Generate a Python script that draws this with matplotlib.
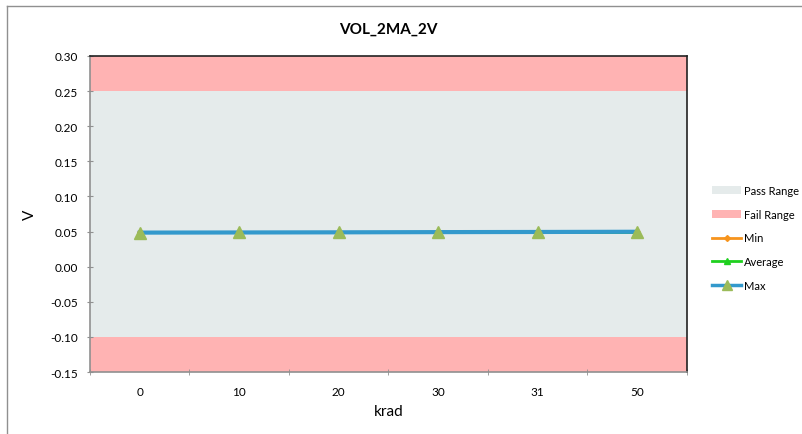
import matplotlib
matplotlib.use("Agg")
import matplotlib.pyplot as plt
from matplotlib.patches import Patch
from matplotlib.lines import Line2D
import numpy as np

plt.rcParams['font.family'] = ['Lato', 'DejaVu Sans']

categories = ['0', '10', '20', '30', '31', '50']
min_vals = [0.0497, 0.0497, 0.0497, 0.0497, 0.0497, 0.0497]
avg_vals = [0.0495, 0.0495, 0.0495, 0.0495, 0.0495, 0.0495]
max_vals = [0.0485, 0.0487, 0.0489, 0.0492, 0.0494, 0.0497]
pass_range = (-0.10, 0.25)
fail_low = (-0.15, -0.10)
fail_high = (0.25, 0.30)
y_ticks = [0.30, 0.25, 0.20, 0.15, 0.10, 0.05, 0.00, -0.05, -0.10, -0.15]

fig = plt.figure(figsize=(8.03, 4.35), dpi=100)
# outer frame lines (left & top)
fig.add_artist(Line2D([7/803, 7/803], [0, 1 - 7/435], color='#909090', lw=1))
fig.add_artist(Line2D([7/803, 1], [1 - 7/435, 1 - 7/435], color='#909090', lw=1))

ax = fig.add_axes([90/803, 1 - 373/435, (687 - 90)/803, (373 - 57)/435])
x = np.arange(len(categories))
ax.set_xlim(-0.5, len(categories) - 0.5)
ax.set_ylim(-0.15, 0.30)

pass_c = '#E5EBEB'
fail_c = '#FFB3B3'
ax.axhspan(*pass_range, color=pass_c, lw=0, zorder=0)
ax.axhspan(*fail_low, color=fail_c, lw=0, zorder=0)
ax.axhspan(*fail_high, color=fail_c, lw=0, zorder=0)

ax.plot(x, min_vals, color='#F7941D', lw=2, marker='D', ms=3, zorder=3)
ax.plot(x, avg_vals, color='#1FD01F', lw=2, marker='^', ms=5, zorder=4)
ax.plot(x, max_vals, color='#3399CC', lw=3, marker='^', ms=9,
        markerfacecolor='#9BBB59', markeredgecolor='#9BBB59', zorder=5)

ax.set_yticks(y_ticks)
ax.set_yticklabels([f'{v:.2f}' for v in y_ticks], fontsize=8.5)
ax.set_xticks(x)
ax.set_xticklabels(categories, fontsize=8.5)
ax.set_xticks(np.arange(-0.5, len(categories)), minor=True)
ax.tick_params(axis='x', which='major', length=0, pad=10)
ax.tick_params(axis='x', which='minor', length=5, direction='inout', color='#909090')
ax.tick_params(axis='y', length=5, direction='inout', color='#909090', pad=6)

for s in ['left', 'bottom']:
    ax.spines[s].set_color('#909090')
    ax.spines[s].set_linewidth(1.2)
for s in ['top', 'right']:
    ax.spines[s].set_color('#222222')
    ax.spines[s].set_linewidth(1.2)

ax.set_xlabel('krad', fontsize=11, labelpad=5)
ax.set_ylabel('V', fontsize=11, labelpad=10)
ax.set_title('VOL_2MA_2V', fontsize=11, fontweight='bold', pad=17)

handles = [
    Patch(facecolor=pass_c, edgecolor='none', label='Pass Range'),
    Patch(facecolor=fail_c, edgecolor='none', label='Fail Range'),
    Line2D([], [], color='#F7941D', lw=2, marker='D', ms=3, label='Min'),
    Line2D([], [], color='#1FD01F', lw=2, marker='^', ms=5, label='Average'),
    Line2D([], [], color='#3399CC', lw=2.5, marker='^', ms=7,
           markerfacecolor='#9BBB59', markeredgecolor='#9BBB59', label='Max'),
]
fig.legend(handles=handles, loc='center left', bbox_to_anchor=(708/803, 1 - 239/435),
           frameon=False, fontsize=8, handlelength=2.6, handletextpad=0.2,
           labelspacing=1.15, borderaxespad=0)

fig.savefig('out.png', dpi=100)
